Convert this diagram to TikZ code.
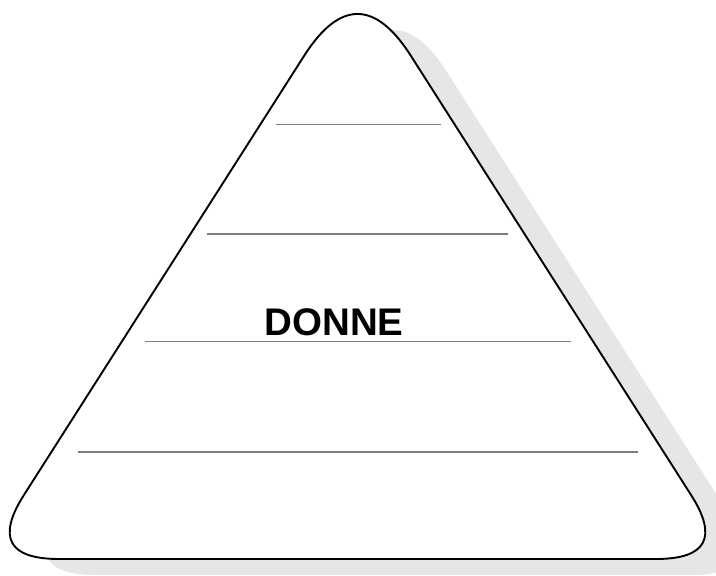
\documentclass[tikz,border=0pt]{standalone}
\usepackage{fontspec}
\setmainfont{Liberation Sans}
\usetikzlibrary{calc}
\definecolor{shadowgray}{RGB}{230,230,230}
\definecolor{rulegray}{RGB}{125,125,125}
\newcommand\trioutline{%
  (59.1,559) -- (655.9,559)
  .. controls ($(655.9,559)!0.6667!(731.9,559)$) and ($(691.0,494.9)!0.6667!(731.9,559)$) .. (691.0,494.9)
  -- (410.8,55.7)
  .. controls ($(410.8,55.7)!0.6667!(357.5,-27.8)$) and ($(304.2,55.7)!0.6667!(357.5,-27.8)$) .. (304.2,55.7)
  -- (24.0,494.9)
  .. controls ($(24.0,494.9)!0.6667!(-16.9,559)$) and ($(59.1,559)!0.6667!(-16.9,559)$) .. (59.1,559)
  -- cycle}
\tikzset{
  outline/.style={draw=black, line width=1.9pt, fill=white, line join=round},
  shadowshape/.style={fill=shadowgray, draw=none},
  rule/.style={draw=rulegray, line width=1.4pt},
  label/.style={font=\fontsize{38.5}{40}\selectfont\bfseries, text=black, inner sep=0pt}
}
\begin{document}
\begin{tikzpicture}[x=1pt,y=-1pt]
\useasboundingbox (0,0) rectangle (716,576);
\begin{scope}[shift={(36,16)}]
  \path[shadowshape] \trioutline;
\end{scope}
\path[outline] \trioutline;
\draw[rule] (276,124.5) -- (441,124.5);
\draw[rule] (207,234) -- (508,234);
\draw[rule] (145,341.5) -- (571,341.5);
\draw[rule] (78,452) -- (638,452);
\node[label] (donne) at (334,322.5) {DONNE};
\end{tikzpicture}
\end{document}
